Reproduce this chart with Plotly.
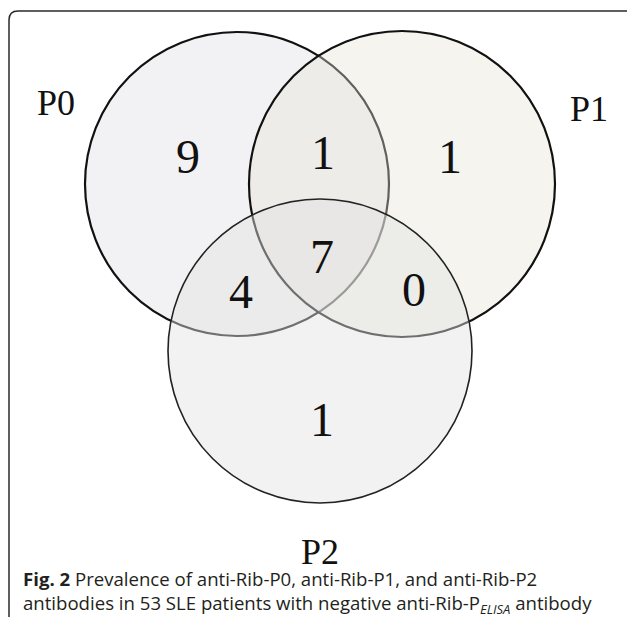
import plotly.graph_objects as go

# ---- data ----
set_names = ["P0", "P1", "P2"]
region_names = ["P0 only", "P0∩P1", "P1 only", "P0∩P1∩P2", "P0∩P2", "P1∩P2", "P2 only"]
region_counts = [9, 1, 1, 7, 4, 0, 1]
caption_line1 = "<b>Fig. 2</b> Prevalence of anti-Rib-P0, anti-Rib-P1, and anti-Rib-P2"
caption_line2 = "antibodies in 53 SLE patients with negative anti-Rib-P<sub><i>ELISA</i></sub> antibody"

# ---- layout (pixel geometry) ----
W, H = 627, 617
circles = {  # center x, center y, radius
    "P0": (237, 184, 152),
    "P1": (402, 184, 153),
    "P2": (320, 351, 152),
}
circle_fill = {
    "P0": "rgba(222,222,228,0.40)",
    "P1": "rgba(228,225,212,0.38)",
    "P2": "rgba(226,226,226,0.45)",
}
circle_line = {"P0": ("#111111", 2.2), "P1": ("#111111", 2.2), "P2": ("#222222", 1.6)}
set_label_pos = {"P0": (56, 106), "P1": (589, 112), "P2": (320, 555)}
region_pos = {
    "P0 only": (188, 161),
    "P0∩P1": (323, 157),
    "P1 only": (450, 161),
    "P0∩P1∩P2": (322, 261),
    "P0∩P2": (241, 296),
    "P1∩P2": (414, 294),
    "P2 only": (322, 424),
}

fig = go.Figure()

shapes = []
# outer rounded frame (right and bottom edges fall outside the picture)
shapes.append(dict(
    type="path", xref="x", yref="y", layer="below",
    path="M 9,640 L 9,20 Q 9,11 18,11 L 660,11",
    line=dict(color="#2a2a2a", width=1.5), fillcolor="rgba(0,0,0,0)",
))
for name in set_names:
    cx, cy, r = circles[name]
    col, lw = circle_line[name]
    shapes.append(dict(
        type="circle", xref="x", yref="y", layer="below",
        x0=cx - r, x1=cx + r, y0=cy - r, y1=cy + r,
        fillcolor=circle_fill[name], line=dict(color=col, width=lw),
    ))

# region counts
fig.add_trace(go.Scatter(
    x=[region_pos[n][0] for n in region_names],
    y=[region_pos[n][1] for n in region_names],
    text=[str(c) for c in region_counts],
    mode="text", textposition="middle center",
    textfont=dict(family="Liberation Serif", size=48, color="#111111"),
    hoverinfo="skip", showlegend=False,
))
# set labels
fig.add_trace(go.Scatter(
    x=[set_label_pos[n][0] for n in set_names],
    y=[set_label_pos[n][1] for n in set_names],
    text=set_names,
    mode="text", textposition="middle center",
    textfont=dict(family="Liberation Serif", size=36, color="#111111"),
    hoverinfo="skip", showlegend=False,
))

annotations = [
    dict(x=21, y=592, xref="x", yref="y", text=caption_line1 + "<br>" + caption_line2,
         showarrow=False, xanchor="left", yanchor="middle", align="left",
         font=dict(family="Open Sans", size=18.6, color="#231f20")),
]

fig.update_layout(
    width=W, height=H,
    margin=dict(l=0, r=0, t=0, b=0),
    paper_bgcolor="white", plot_bgcolor="white",
    xaxis=dict(range=[0, W], visible=False, fixedrange=True),
    yaxis=dict(range=[H, 0], visible=False, fixedrange=True),
    shapes=shapes, annotations=annotations,
    showlegend=False,
)

fig.write_html("out.html", config={"displayModeBar": False},
               post_script="document.body.style.margin='0px';document.body.style.overflow='hidden';")
